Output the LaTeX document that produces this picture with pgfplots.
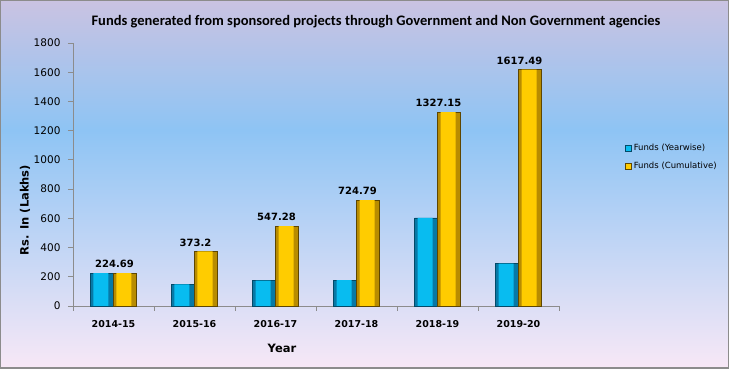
\documentclass[border=0pt]{standalone}
\usepackage{pgfplots}
\usepackage{pgfplotstable}
\pgfplotsset{compat=1.18}
\usetikzlibrary{backgrounds}
\usepackage{fontspec}
\setmainfont{DejaVu Sans}
\newfontfamily\titlefont{Carlito}
\definecolor{bgtop}{HTML}{CAC3E2}
\definecolor{bgmid}{HTML}{8EC4F4}
\definecolor{bgbot}{HTML}{F8E8F6}
\definecolor{bEdge}{HTML}{0779A6}
\definecolor{bFace}{HTML}{08BCF0}
\definecolor{bLine}{HTML}{034A68}
\definecolor{yEdge}{HTML}{B88C00}
\definecolor{yFace}{HTML}{FFCC00}
\definecolor{yLine}{HTML}{5E4600}
\pgfplotstableread{
x y
0 224.69
1 148.51
2 174.08
3 177.51
4 602.36
5 290.34
}\yearwise
\pgfplotstableread{
x y label
0 224.69 224.69
1 373.2 373.2
2 547.28 547.28
3 724.79 724.79
4 1327.15 1327.15
5 1617.49 1617.49
}\cumulative
\begin{document}
\begin{tikzpicture}
\begin{axis}[
  name=ax,
  scale only axis, width=486pt, height=263pt,
  xmin=-0.5, xmax=5.5, ymin=0, ymax=1800,
  ytick={0,200,...,1800},
  xtick={-0.5,0.5,...,5.5}, xticklabels={},
  extra x ticks={0,1,2,3,4,5},
  extra x tick labels={2014-15,2015-16,2016-17,2017-18,2018-19,2019-20},
  extra x tick style={major tick length=0pt, tick label style={yshift=-11pt}},
  axis x line*=bottom, axis y line*=left,
  axis line style={-, draw=gray!90, line width=0.8pt},
  tick style={draw=gray!90, line width=0.8pt},
  tick align=outside, major tick length=5pt,
  x tick label style={font=\bfseries\fontsize{9.5}{11}\selectfont},
  y tick label style={font=\fontsize{10.5}{12}\selectfont, xshift=-4pt},
  /pgf/number format/assume math mode=true,
  /pgf/number format/1000 sep={},
  legend style={at={(1.13,0.565)}, anchor=west, draw=none, fill=none,
    font=\fontsize{8.5}{10}\selectfont, row sep=6pt},
  legend cell align=left,
  clip=false,
]
% back (edge) bars
\addplot[ybar, bar width=23pt, bar shift=-11.5pt, fill=bEdge, draw=bLine, line width=0.5pt, forget plot]
  table[x=x, y=y] {\yearwise};
\addplot[ybar, bar width=23pt, bar shift=11.5pt, fill=yEdge, draw=yLine, line width=0.5pt, forget plot]
  table[x=x, y=y] {\cumulative};
% face bars
\addplot[ybar, bar width=15pt, bar shift=-12.5pt, fill=bFace, draw=none,
  legend image code/.code={\fill[bFace, draw=bLine] (0pt,-3pt) rectangle (6pt,3pt);}]
  table[x=x, y=y] {\yearwise};
\addlegendentry{Funds (Yearwise)}
\addplot[ybar, bar width=15pt, bar shift=10.5pt, fill=yFace, draw=none,
  legend image code/.code={\fill[yFace, draw=yLine] (0pt,-3pt) rectangle (6pt,3pt);},
  point meta=explicit symbolic, nodes near coords,
  nodes near coords style={font=\bfseries\fontsize{10}{12}\selectfont, anchor=south, yshift=3pt, xshift=1pt, inner sep=2pt, text=black}]
  table[x=x, y=y, meta=label] {\cumulative};
\addlegendentry{Funds (Cumulative)}
\end{axis}
\begin{scope}[on background layer]
\shade[top color=bgtop, bottom color=bgmid] ([shift={(-73pt,176pt)}]ax.south west) rectangle ([shift={(656pt,306pt)}]ax.south west);
\shade[top color=bgmid, bottom color=bgbot] ([shift={(-73pt,-63pt)}]ax.south west) rectangle ([shift={(656pt,176pt)}]ax.south west);
\draw[gray!90, line width=1.5pt] ([shift={(-72.25pt,-62.25pt)}]ax.south west) rectangle ([shift={(655.25pt,305.25pt)}]ax.south west);
\end{scope}
\node[font=\titlefont\bfseries\fontsize{14.5}{16}\selectfont] at ([shift={(303pt,284pt)}]ax.south west) {Funds generated from sponsored projects through Government and Non Government agencies};
\node[font=\bfseries\fontsize{11.5}{13}\selectfont, rotate=90] at ([shift={(-48pt,96pt)}]ax.south west) {Rs. In (Lakhs)};
\node[font=\bfseries\fontsize{11.5}{13}\selectfont] at ([shift={(209pt,-42pt)}]ax.south west) {Year};
\end{tikzpicture}
\end{document}
